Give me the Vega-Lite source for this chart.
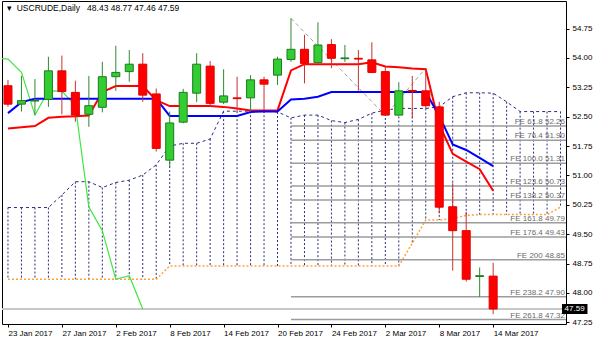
{
  "$schema": "https://vega.github.io/schema/vega-lite/v6.json",
  "width": 564,
  "height": 323,
  "autosize": {"type": "none"},
  "padding": {"left": 2, "top": 1, "right": 34, "bottom": 19},
  "background": "white",
  "title": {"text": "▾\u00a0 USCRUDE,Daily\u00a0\u00a0 48.43 48.77 47.46 47.59", "anchor": "start", "frame": "group", "orient": "top", "offset": -11, "fontSize": 8.5, "font": "Liberation Sans", "fontWeight": "normal", "color": "#000000", "dx": 5},
  "datasets": {
    "bars": [
      {"i": 0, "date": "2017-01-23", "o": 53.29, "h": 53.44, "l": 52.75, "c": 52.82, "tk": 52.20, "kj": 52.59},
      {"i": 1, "date": "2017-01-24", "o": 52.82, "h": 53.54, "l": 52.63, "c": 52.91, "tk": 52.23, "kj": 52.87},
      {"i": 2, "date": "2017-01-25", "o": 52.90, "h": 53.46, "l": 52.55, "c": 52.91, "tk": 52.26, "kj": 52.96},
      {"i": 3, "date": "2017-01-26", "o": 52.94, "h": 54.03, "l": 52.75, "c": 53.67, "tk": 52.47, "kj": 52.96},
      {"i": 4, "date": "2017-01-27", "o": 53.67, "h": 54.06, "l": 52.56, "c": 53.14, "tk": 52.50, "kj": 52.96},
      {"i": 5, "date": "2017-01-30", "o": 53.12, "h": 53.42, "l": 52.37, "c": 52.54, "tk": 52.51, "kj": 52.96},
      {"i": 6, "date": "2017-01-31", "o": 52.56, "h": 53.54, "l": 52.24, "c": 52.78, "tk": 52.53, "kj": 52.96},
      {"i": 7, "date": "2017-02-01", "o": 52.74, "h": 53.90, "l": 52.61, "c": 53.52, "tk": 53.13, "kj": 52.96},
      {"i": 8, "date": "2017-02-02", "o": 53.52, "h": 54.31, "l": 53.16, "c": 53.63, "tk": 53.28, "kj": 52.96},
      {"i": 9, "date": "2017-02-03", "o": 53.65, "h": 54.20, "l": 53.39, "c": 53.84, "tk": 53.28, "kj": 52.96},
      {"i": 10, "date": "2017-02-06", "o": 53.84, "h": 54.12, "l": 52.88, "c": 53.05, "tk": 53.28, "kj": 52.96},
      {"i": 11, "date": "2017-02-07", "o": 53.08, "h": 53.22, "l": 51.61, "c": 51.69, "tk": 52.92, "kj": 52.96},
      {"i": 12, "date": "2017-02-08", "o": 51.39, "h": 52.63, "l": 51.22, "c": 52.34, "tk": 52.77, "kj": 52.52},
      {"i": 13, "date": "2017-02-09", "o": 52.36, "h": 53.21, "l": 52.33, "c": 53.12, "tk": 52.77, "kj": 52.52},
      {"i": 14, "date": "2017-02-10", "o": 53.10, "h": 54.12, "l": 52.87, "c": 53.84, "tk": 52.77, "kj": 52.52},
      {"i": 15, "date": "2017-02-13", "o": 53.79, "h": 53.92, "l": 52.75, "c": 52.84, "tk": 52.77, "kj": 52.52},
      {"i": 16, "date": "2017-02-14", "o": 52.87, "h": 53.71, "l": 52.82, "c": 53.03, "tk": 52.75, "kj": 52.52},
      {"i": 17, "date": "2017-02-15", "o": 52.98, "h": 53.52, "l": 52.63, "c": 52.96, "tk": 52.71, "kj": 52.52},
      {"i": 18, "date": "2017-02-16", "o": 52.98, "h": 53.56, "l": 52.63, "c": 53.44, "tk": 52.66, "kj": 52.62},
      {"i": 19, "date": "2017-02-17", "o": 53.44, "h": 53.52, "l": 52.67, "c": 53.33, "tk": 52.66, "kj": 52.63},
      {"i": 20, "date": "2017-02-20", "o": 53.56, "h": 54.03, "l": 53.31, "c": 53.97, "tk": 52.66, "kj": 52.63},
      {"i": 21, "date": "2017-02-21", "o": 53.96, "h": 55.01, "l": 53.90, "c": 54.22, "tk": 53.68, "kj": 52.94},
      {"i": 22, "date": "2017-02-22", "o": 54.22, "h": 54.59, "l": 53.35, "c": 53.86, "tk": 53.84, "kj": 52.96},
      {"i": 23, "date": "2017-02-23", "o": 53.88, "h": 54.91, "l": 53.86, "c": 54.33, "tk": 53.84, "kj": 53.01},
      {"i": 24, "date": "2017-02-24", "o": 54.34, "h": 54.48, "l": 53.74, "c": 53.99, "tk": 53.84, "kj": 53.13},
      {"i": 25, "date": "2017-02-27", "o": 53.98, "h": 54.33, "l": 53.90, "c": 54.00, "tk": 53.84, "kj": 53.13},
      {"i": 26, "date": "2017-02-28", "o": 53.99, "h": 54.20, "l": 53.16, "c": 53.97, "tk": 53.84, "kj": 53.13},
      {"i": 27, "date": "2017-03-01", "o": 53.95, "h": 54.40, "l": 53.61, "c": 53.63, "tk": 53.89, "kj": 53.13},
      {"i": 28, "date": "2017-03-02", "o": 53.65, "h": 53.78, "l": 52.53, "c": 52.54, "tk": 53.78, "kj": 53.13},
      {"i": 29, "date": "2017-03-03", "o": 52.54, "h": 53.38, "l": 52.52, "c": 53.16, "tk": 53.76, "kj": 53.13},
      {"i": 30, "date": "2017-03-06", "o": 53.17, "h": 53.54, "l": 52.46, "c": 53.15, "tk": 53.73, "kj": 53.13},
      {"i": 31, "date": "2017-03-07", "o": 53.16, "h": 53.71, "l": 52.71, "c": 52.78, "tk": 53.71, "kj": 53.13},
      {"i": 32, "date": "2017-03-08", "o": 52.75, "h": 52.88, "l": 50.03, "c": 50.19, "tk": 52.30, "kj": 52.52},
      {"i": 33, "date": "2017-03-09", "o": 50.20, "h": 50.80, "l": 48.57, "c": 49.59, "tk": 51.55, "kj": 51.79},
      {"i": 34, "date": "2017-03-10", "o": 49.59, "h": 50.07, "l": 48.29, "c": 48.35, "tk": 51.35, "kj": 51.65},
      {"i": 35, "date": "2017-03-13", "o": 48.42, "h": 48.65, "l": 47.90, "c": 48.44, "tk": 51.16, "kj": 51.45},
      {"i": 36, "date": "2017-03-14", "o": 48.43, "h": 48.77, "l": 47.46, "c": 47.59, "tk": 50.61, "kj": 51.24}
    ],
    "cloud": [
      {"i": 0, "a": 50.18, "b": 48.35}, {"i": 1, "a": 50.18, "b": 48.35}, {"i": 2, "a": 50.18, "b": 48.35},
      {"i": 3, "a": 50.18, "b": 48.35}, {"i": 4, "a": 50.50, "b": 48.35}, {"i": 5, "a": 50.84, "b": 48.35},
      {"i": 6, "a": 50.84, "b": 48.35}, {"i": 7, "a": 50.69, "b": 48.35}, {"i": 8, "a": 50.82, "b": 48.35},
      {"i": 9, "a": 50.88, "b": 48.35}, {"i": 10, "a": 51.01, "b": 48.35}, {"i": 11, "a": 51.27, "b": 48.35},
      {"i": 12, "a": 51.75, "b": 48.69}, {"i": 13, "a": 51.82, "b": 48.69}, {"i": 14, "a": 51.82, "b": 48.69},
      {"i": 15, "a": 51.93, "b": 48.69}, {"i": 16, "a": 52.64, "b": 48.69}, {"i": 17, "a": 52.64, "b": 48.69},
      {"i": 18, "a": 52.64, "b": 48.69}, {"i": 19, "a": 52.64, "b": 48.69}, {"i": 20, "a": 52.62, "b": 48.69},
      {"i": 21, "a": 52.47, "b": 48.69}, {"i": 22, "a": 52.54, "b": 48.69}, {"i": 23, "a": 52.54, "b": 48.69},
      {"i": 24, "a": 52.40, "b": 48.69}, {"i": 25, "a": 52.35, "b": 48.69}, {"i": 26, "a": 52.43, "b": 48.69},
      {"i": 27, "a": 52.59, "b": 48.69}, {"i": 28, "a": 52.67, "b": 48.69}, {"i": 29, "a": 52.71, "b": 48.69},
      {"i": 30, "a": 52.71, "b": 49.27}, {"i": 31, "a": 52.71, "b": 49.86}, {"i": 32, "a": 52.75, "b": 49.86},
      {"i": 33, "a": 53.01, "b": 49.90}, {"i": 34, "a": 53.11, "b": 49.98}, {"i": 35, "a": 53.11, "b": 50.00},
      {"i": 36, "a": 53.10, "b": 50.00}, {"i": 37, "a": 52.88, "b": 50.00}, {"i": 38, "a": 52.63, "b": 50.00},
      {"i": 39, "a": 52.63, "b": 50.00}, {"i": 40, "a": 52.63, "b": 50.00}, {"i": 41, "a": 52.63, "b": 50.19}
    ],
    "chikou": [
      {"i": -1, "v": 54.00}, {"i": 0, "v": 53.97}, {"i": 1, "v": 53.63}, {"i": 2, "v": 52.54},
      {"i": 3, "v": 53.16}, {"i": 4, "v": 53.15}, {"i": 5, "v": 52.78}, {"i": 6, "v": 50.19},
      {"i": 7, "v": 49.59}, {"i": 8, "v": 48.35}, {"i": 9, "v": 48.44}, {"i": 10, "v": 47.59}
    ],
    "fe": [
      {"level": 52.26, "label": "FE 61.8 52.26"},
      {"level": 51.90, "label": "FE 76.4 51.90"},
      {"level": 51.31, "label": "FE 100.0 51.31"},
      {"level": 50.73, "label": "FE 123.6 50.73"},
      {"level": 50.37, "label": "FE 138.2 50.37"},
      {"level": 49.79, "label": "FE 161.8 49.79"},
      {"level": 49.43, "label": "FE 176.4 49.43"},
      {"level": 48.85, "label": "FE 200 48.85"},
      {"level": 47.90, "label": "FE 238.2 47.90"},
      {"level": 47.32, "label": "FE 261.8 47.32"}
    ],
    "trend": [
      {"i": 21, "p": 55.01},
      {"i": 28, "p": 52.53},
      {"i": 31, "p": 53.74}
    ],
    "bid": [{"p": 47.59, "label": "47.59"}]
  },
  "layer": [
    {
      "data": {"name": "cloud"},
      "mark": {"type": "rule", "color": "#2a2a7e", "strokeWidth": 1, "strokeDash": [2, 2]},
      "encoding": {
        "x": {"field": "i", "type": "quantitative", "scale": {"domain": [-0.073, 41.035], "nice": false, "zero": false},
          "axis": {"title": null, "values": [0, 4, 8, 12, 16, 20, 24, 28, 32, 36], "labelExpr": "['23 Jan 2017','27 Jan 2017','2 Feb 2017','8 Feb 2017','14 Feb 2017','20 Feb 2017','24 Feb 2017','2 Mar 2017','8 Mar 2017','14 Mar 2017'][round(datum.value/4)]"}},
        "y": {"field": "a", "type": "quantitative", "scale": {"domain": [47.207, 55.453], "nice": false, "zero": false},
          "axis": {"orient": "right", "title": null, "values": [47.25, 48, 48.75, 49.5, 50.25, 51, 51.75, 52.5, 53.25, 54, 54.75], "format": ".2f"}},
        "y2": {"field": "b"}
      }
    },
    {
      "data": {"name": "cloud"},
      "mark": {"type": "line", "color": "#2a2a7e", "strokeWidth": 1, "strokeDash": [3, 3]},
      "encoding": {
        "x": {"field": "i", "type": "quantitative", "scale": {"domain": [-0.073, 41.035], "nice": false, "zero": false},
          "axis": {"title": null, "values": [0, 4, 8, 12, 16, 20, 24, 28, 32, 36], "labelExpr": "['23 Jan 2017','27 Jan 2017','2 Feb 2017','8 Feb 2017','14 Feb 2017','20 Feb 2017','24 Feb 2017','2 Mar 2017','8 Mar 2017','14 Mar 2017'][round(datum.value/4)]"}},
        "y": {"field": "a", "type": "quantitative", "scale": {"domain": [47.207, 55.453], "nice": false, "zero": false},
          "axis": {"orient": "right", "title": null, "values": [47.25, 48, 48.75, 49.5, 50.25, 51, 51.75, 52.5, 53.25, 54, 54.75], "format": ".2f"}}
      }
    },
    {
      "data": {"name": "cloud"},
      "mark": {"type": "line", "color": "#ffa040", "strokeWidth": 1.5, "strokeDash": [2, 2]},
      "encoding": {
        "x": {"field": "i", "type": "quantitative", "scale": {"domain": [-0.073, 41.035], "nice": false, "zero": false},
          "axis": {"title": null, "values": [0, 4, 8, 12, 16, 20, 24, 28, 32, 36], "labelExpr": "['23 Jan 2017','27 Jan 2017','2 Feb 2017','8 Feb 2017','14 Feb 2017','20 Feb 2017','24 Feb 2017','2 Mar 2017','8 Mar 2017','14 Mar 2017'][round(datum.value/4)]"}},
        "y": {"field": "b", "type": "quantitative", "scale": {"domain": [47.207, 55.453], "nice": false, "zero": false},
          "axis": {"orient": "right", "title": null, "values": [47.25, 48, 48.75, 49.5, 50.25, 51, 51.75, 52.5, 53.25, 54, 54.75], "format": ".2f"}}
      }
    },
    {
      "data": {"name": "fe"},
      "mark": {"type": "rule", "color": "#9c9c9c", "strokeWidth": 1.5},
      "encoding": {
        "x": {"datum": 21, "type": "quantitative", "scale": {"domain": [-0.073, 41.035], "nice": false, "zero": false},
          "axis": {"title": null, "values": [0, 4, 8, 12, 16, 20, 24, 28, 32, 36], "labelExpr": "['23 Jan 2017','27 Jan 2017','2 Feb 2017','8 Feb 2017','14 Feb 2017','20 Feb 2017','24 Feb 2017','2 Mar 2017','8 Mar 2017','14 Mar 2017'][round(datum.value/4)]"}},
        "x2": {"value": "width"},
        "y": {"field": "level", "type": "quantitative", "scale": {"domain": [47.207, 55.453], "nice": false, "zero": false},
          "axis": {"orient": "right", "title": null, "values": [47.25, 48, 48.75, 49.5, 50.25, 51, 51.75, 52.5, 53.25, 54, 54.75], "format": ".2f"}}
      }
    },
    {
      "data": {"name": "fe"},
      "mark": {"type": "text", "align": "right", "baseline": "alphabetic", "dx": -1, "dy": -2, "font": "Liberation Sans", "fontSize": 8, "color": "#6a6a6a"},
      "encoding": {
        "x": {"value": "width"},
        "y": {"field": "level", "type": "quantitative", "scale": {"domain": [47.207, 55.453], "nice": false, "zero": false},
          "axis": {"orient": "right", "title": null, "values": [47.25, 48, 48.75, 49.5, 50.25, 51, 51.75, 52.5, 53.25, 54, 54.75], "format": ".2f"}},
        "text": {"field": "label"}
      }
    },
    {
      "data": {"name": "trend"},
      "mark": {"type": "line", "color": "#a0a0a0", "strokeWidth": 1, "strokeDash": [4, 3]},
      "encoding": {
        "x": {"field": "i", "type": "quantitative", "scale": {"domain": [-0.073, 41.035], "nice": false, "zero": false},
          "axis": {"title": null, "values": [0, 4, 8, 12, 16, 20, 24, 28, 32, 36], "labelExpr": "['23 Jan 2017','27 Jan 2017','2 Feb 2017','8 Feb 2017','14 Feb 2017','20 Feb 2017','24 Feb 2017','2 Mar 2017','8 Mar 2017','14 Mar 2017'][round(datum.value/4)]"}},
        "y": {"field": "p", "type": "quantitative", "scale": {"domain": [47.207, 55.453], "nice": false, "zero": false},
          "axis": {"orient": "right", "title": null, "values": [47.25, 48, 48.75, 49.5, 50.25, 51, 51.75, 52.5, 53.25, 54, 54.75], "format": ".2f"}}
      }
    },
    {
      "data": {"name": "bid"},
      "mark": {"type": "rule", "color": "#c8c8c8", "strokeWidth": 2},
      "encoding": {
        "y": {"field": "p", "type": "quantitative", "scale": {"domain": [47.207, 55.453], "nice": false, "zero": false},
          "axis": {"orient": "right", "title": null, "values": [47.25, 48, 48.75, 49.5, 50.25, 51, 51.75, 52.5, 53.25, 54, 54.75], "format": ".2f"}}
      }
    },
    {
      "data": {"name": "chikou"},
      "mark": {"type": "line", "color": "#3ee83e", "strokeWidth": 1.2, "clip": true},
      "encoding": {
        "x": {"field": "i", "type": "quantitative", "scale": {"domain": [-0.073, 41.035], "nice": false, "zero": false},
          "axis": {"title": null, "values": [0, 4, 8, 12, 16, 20, 24, 28, 32, 36], "labelExpr": "['23 Jan 2017','27 Jan 2017','2 Feb 2017','8 Feb 2017','14 Feb 2017','20 Feb 2017','24 Feb 2017','2 Mar 2017','8 Mar 2017','14 Mar 2017'][round(datum.value/4)]"}},
        "y": {"field": "v", "type": "quantitative", "scale": {"domain": [47.207, 55.453], "nice": false, "zero": false},
          "axis": {"orient": "right", "title": null, "values": [47.25, 48, 48.75, 49.5, 50.25, 51, 51.75, 52.5, 53.25, 54, 54.75], "format": ".2f"}}
      }
    },
    {
      "data": {"name": "bars"},
      "mark": {"type": "line", "color": "#ff0000", "strokeWidth": 2},
      "encoding": {
        "x": {"field": "i", "type": "quantitative", "scale": {"domain": [-0.073, 41.035], "nice": false, "zero": false},
          "axis": {"title": null, "values": [0, 4, 8, 12, 16, 20, 24, 28, 32, 36], "labelExpr": "['23 Jan 2017','27 Jan 2017','2 Feb 2017','8 Feb 2017','14 Feb 2017','20 Feb 2017','24 Feb 2017','2 Mar 2017','8 Mar 2017','14 Mar 2017'][round(datum.value/4)]"}},
        "y": {"field": "tk", "type": "quantitative", "scale": {"domain": [47.207, 55.453], "nice": false, "zero": false},
          "axis": {"orient": "right", "title": null, "values": [47.25, 48, 48.75, 49.5, 50.25, 51, 51.75, 52.5, 53.25, 54, 54.75], "format": ".2f"}}
      }
    },
    {
      "data": {"name": "bars"},
      "mark": {"type": "line", "color": "#0000ff", "strokeWidth": 2},
      "encoding": {
        "x": {"field": "i", "type": "quantitative", "scale": {"domain": [-0.073, 41.035], "nice": false, "zero": false},
          "axis": {"title": null, "values": [0, 4, 8, 12, 16, 20, 24, 28, 32, 36], "labelExpr": "['23 Jan 2017','27 Jan 2017','2 Feb 2017','8 Feb 2017','14 Feb 2017','20 Feb 2017','24 Feb 2017','2 Mar 2017','8 Mar 2017','14 Mar 2017'][round(datum.value/4)]"}},
        "y": {"field": "kj", "type": "quantitative", "scale": {"domain": [47.207, 55.453], "nice": false, "zero": false},
          "axis": {"orient": "right", "title": null, "values": [47.25, 48, 48.75, 49.5, 50.25, 51, 51.75, 52.5, 53.25, 54, 54.75], "format": ".2f"}}
      }
    },
    {
      "data": {"name": "bars"},
      "transform": [{"filter": "datum.c >= datum.o"}],
      "mark": {"type": "rule", "color": "#2f8a2f", "strokeWidth": 1, "clip": true},
      "encoding": {
        "x": {"field": "i", "type": "quantitative", "scale": {"domain": [-0.073, 41.035], "nice": false, "zero": false},
          "axis": {"title": null, "values": [0, 4, 8, 12, 16, 20, 24, 28, 32, 36], "labelExpr": "['23 Jan 2017','27 Jan 2017','2 Feb 2017','8 Feb 2017','14 Feb 2017','20 Feb 2017','24 Feb 2017','2 Mar 2017','8 Mar 2017','14 Mar 2017'][round(datum.value/4)]"}},
        "y": {"field": "l", "type": "quantitative", "scale": {"domain": [47.207, 55.453], "nice": false, "zero": false},
          "axis": {"orient": "right", "title": null, "values": [47.25, 48, 48.75, 49.5, 50.25, 51, 51.75, 52.5, 53.25, 54, 54.75], "format": ".2f"}},
        "y2": {"field": "h"}
      }
    },
    {
      "data": {"name": "bars"},
      "transform": [{"filter": "datum.c < datum.o"}],
      "mark": {"type": "rule", "color": "#cc3030", "strokeWidth": 1, "clip": true},
      "encoding": {
        "x": {"field": "i", "type": "quantitative", "scale": {"domain": [-0.073, 41.035], "nice": false, "zero": false},
          "axis": {"title": null, "values": [0, 4, 8, 12, 16, 20, 24, 28, 32, 36], "labelExpr": "['23 Jan 2017','27 Jan 2017','2 Feb 2017','8 Feb 2017','14 Feb 2017','20 Feb 2017','24 Feb 2017','2 Mar 2017','8 Mar 2017','14 Mar 2017'][round(datum.value/4)]"}},
        "y": {"field": "l", "type": "quantitative", "scale": {"domain": [47.207, 55.453], "nice": false, "zero": false},
          "axis": {"orient": "right", "title": null, "values": [47.25, 48, 48.75, 49.5, 50.25, 51, 51.75, 52.5, 53.25, 54, 54.75], "format": ".2f"}},
        "y2": {"field": "h"}
      }
    },
    {
      "data": {"name": "bars"},
      "transform": [{"filter": "datum.c >= datum.o"}],
      "mark": {"type": "bar", "size": 8, "fill": "#32cd32", "stroke": "#1f7a1f", "strokeWidth": 1, "clip": true},
      "encoding": {
        "x": {"field": "i", "type": "quantitative", "scale": {"domain": [-0.073, 41.035], "nice": false, "zero": false},
          "axis": {"title": null, "values": [0, 4, 8, 12, 16, 20, 24, 28, 32, 36], "labelExpr": "['23 Jan 2017','27 Jan 2017','2 Feb 2017','8 Feb 2017','14 Feb 2017','20 Feb 2017','24 Feb 2017','2 Mar 2017','8 Mar 2017','14 Mar 2017'][round(datum.value/4)]"}},
        "y": {"field": "o", "type": "quantitative", "scale": {"domain": [47.207, 55.453], "nice": false, "zero": false},
          "axis": {"orient": "right", "title": null, "values": [47.25, 48, 48.75, 49.5, 50.25, 51, 51.75, 52.5, 53.25, 54, 54.75], "format": ".2f"}},
        "y2": {"field": "c"}
      }
    },
    {
      "data": {"name": "bars"},
      "transform": [{"filter": "datum.c < datum.o"}],
      "mark": {"type": "bar", "size": 8, "fill": "#ff0000", "stroke": "#e00000", "strokeWidth": 1, "clip": true},
      "encoding": {
        "x": {"field": "i", "type": "quantitative", "scale": {"domain": [-0.073, 41.035], "nice": false, "zero": false},
          "axis": {"title": null, "values": [0, 4, 8, 12, 16, 20, 24, 28, 32, 36], "labelExpr": "['23 Jan 2017','27 Jan 2017','2 Feb 2017','8 Feb 2017','14 Feb 2017','20 Feb 2017','24 Feb 2017','2 Mar 2017','8 Mar 2017','14 Mar 2017'][round(datum.value/4)]"}},
        "y": {"field": "o", "type": "quantitative", "scale": {"domain": [47.207, 55.453], "nice": false, "zero": false},
          "axis": {"orient": "right", "title": null, "values": [47.25, 48, 48.75, 49.5, 50.25, 51, 51.75, 52.5, 53.25, 54, 54.75], "format": ".2f"}},
        "y2": {"field": "c"}
      }
    },
    {
      "data": {"name": "bid"},
      "mark": {"type": "rule", "color": "#000000", "strokeWidth": 10, "strokeCap": "butt", "clip": false},
      "encoding": {
        "x": {"datum": 41.11, "type": "quantitative", "scale": {"domain": [-0.073, 41.035], "nice": false, "zero": false},
          "axis": {"title": null, "values": [0, 4, 8, 12, 16, 20, 24, 28, 32, 36], "labelExpr": "['23 Jan 2017','27 Jan 2017','2 Feb 2017','8 Feb 2017','14 Feb 2017','20 Feb 2017','24 Feb 2017','2 Mar 2017','8 Mar 2017','14 Mar 2017'][round(datum.value/4)]"}},
        "x2": {"datum": 43.0},
        "y": {"field": "p", "type": "quantitative", "scale": {"domain": [47.207, 55.453], "nice": false, "zero": false},
          "axis": {"orient": "right", "title": null, "values": [47.25, 48, 48.75, 49.5, 50.25, 51, 51.75, 52.5, 53.25, 54, 54.75], "format": ".2f"}}
      }
    },
    {
      "data": {"name": "bid"},
      "mark": {"type": "text", "align": "left", "baseline": "middle", "font": "Liberation Sans", "fontSize": 8, "color": "#ffffff", "clip": false},
      "encoding": {
        "x": {"datum": 41.3, "type": "quantitative", "scale": {"domain": [-0.073, 41.035], "nice": false, "zero": false},
          "axis": {"title": null, "values": [0, 4, 8, 12, 16, 20, 24, 28, 32, 36], "labelExpr": "['23 Jan 2017','27 Jan 2017','2 Feb 2017','8 Feb 2017','14 Feb 2017','20 Feb 2017','24 Feb 2017','2 Mar 2017','8 Mar 2017','14 Mar 2017'][round(datum.value/4)]"}},
        "y": {"field": "p", "type": "quantitative", "scale": {"domain": [47.207, 55.453], "nice": false, "zero": false},
          "axis": {"orient": "right", "title": null, "values": [47.25, 48, 48.75, 49.5, 50.25, 51, 51.75, 52.5, 53.25, 54, 54.75], "format": ".2f"}},
        "text": {"field": "label"}
      }
    }
  ],
  "config": {
    "view": {"stroke": "#000000", "strokeWidth": 1},
    "font": "Liberation Sans",
    "axis": {"labelFont": "Liberation Sans", "labelFontSize": 8, "labelColor": "#000000", "tickColor": "#000000", "tickSize": 3, "tickWidth": 1, "domain": false, "grid": false, "labelFlush": false, "labelOverlap": false, "labelBound": false},
    "axisX": {"labelAlign": "left", "labelBaseline": "top", "labelPadding": 2},
    "axisY": {"labelAlign": "left", "labelBaseline": "middle", "labelPadding": 3}
  }
}
